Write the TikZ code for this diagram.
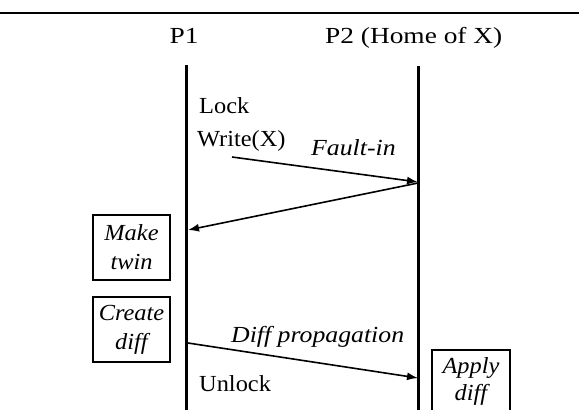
\documentclass[tikz,border=0pt]{standalone}
\usepackage{fontspec}
\setmainfont{Liberation Serif}[FakeStretch=1.06]
\newfontfamily\hdfont{Liberation Serif}[FakeStretch=1.19]
\newfontfamily\msgfont{Liberation Serif}[FakeStretch=1.12]
\usetikzlibrary{arrows.meta}
\tikzset{
  lbl/.style={inner sep=0pt, font=\fontsize{23}{28}\selectfont},
  hdlbl/.style={inner sep=0pt, font=\hdfont\fontsize{23}{28}\selectfont},
  ilbl/.style={inner sep=0pt, font=\msgfont\fontsize{23}{28}\selectfont\itshape},
  actbox/.style={draw, line width=1.6pt, inner sep=0pt, minimum width=77pt, minimum height=65pt, align=center, font=\fontsize{23}{29}\selectfont\itshape},
  life/.style={line width=3pt},
  msg/.style={line width=1.6pt, -{Latex[length=11pt,width=8pt]}},
}
\begin{document}
\begin{tikzpicture}[x=1pt,y=-1pt]
\useasboundingbox (0,0) rectangle (579,410);
% top rule
\coordinate (ruleL) at (0,13);
\coordinate (ruleR) at (579,13);
\draw[line width=1.6pt] (ruleL) -- (ruleR);
% headers
\node[hdlbl, anchor=base] (p1) at (184,43) {P1};
\node[hdlbl, anchor=base west] (p2) at (325,43) {P2 (Home of X)};
% lifelines
\coordinate (l1top) at (186,65);
\coordinate (l1bot) at (186,410);
\coordinate (l2top) at (418,66);
\coordinate (l2bot) at (418,410);
\draw[life] (l1top) -- (l1bot);
\draw[life] (l2top) -- (l2bot);
% P1 texts
\node[lbl, anchor=base west] (lock) at (199,113) {Lock};
\node[lbl, anchor=base west] (write) at (197,146) {Write(X)};
\node[ilbl, anchor=base west] (fault) at (311,155) {Fault-in};
\node[ilbl, anchor=base west] (diffprop) at (231,342) {Diff propagation};
\node[lbl, anchor=base west] (unlock) at (199,391) {Unlock};
% boxes
\node[actbox] (twin) at (131.5,247.5) {Make\\twin};
\node[actbox] (create) at (131.5,329.5) {Create\\diff};
\coordinate (applyBL) at (432,410);
\coordinate (applyTL) at (432,350);
\coordinate (applyTR) at (510,350);
\coordinate (applyBR) at (510,410);
\draw[line width=1.6pt] (applyBL) -- (applyTL) -- (applyTR) -- (applyBR);
\node[lbl, font=\fontsize{23}{27}\selectfont\itshape, align=center] (apply) at (471,381) {Apply\\diff};
% messages
\coordinate (f1s) at (232,157);
\coordinate (f1e) at (418,182);
\coordinate (f2s) at (418,183);
\coordinate (f2e) at (188,230);
\coordinate (d1s) at (188,343);
\coordinate (d1e) at (418,378);
\draw[msg] (f1s) -- (f1e);
\draw[msg] (f2s) -- (f2e);
\draw[msg] (d1s) -- (d1e);
\end{tikzpicture}
\end{document}
